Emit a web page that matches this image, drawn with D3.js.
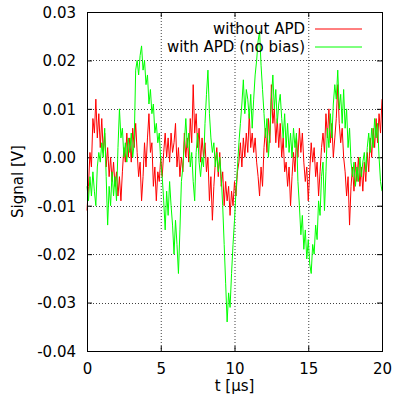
<!DOCTYPE html>
<html>
<head>
<meta charset="utf-8">
<script src="https://cdn.jsdelivr.net/npm/d3@7"></script>
<style>
  html, body { margin: 0; padding: 0; background: #fff; }
  text { font-family: "DejaVu Sans", sans-serif; font-size: 15px; fill: #000; }
</style>
</head>
<body>
<div id="chart"></div>
<script>
// time axis, 0.1 us steps
const tStep = 0.1;
// signal values in mV
const withoutApd = [
  -11, -6, 1, -2, 8, 5, 12, 4, 9, 2,
  8, 1, 5, -2, 2, -4, 0, -5, -1, -6,
  -3, -8, -4, -9, -3, 2, -1, 5, 0, 4,
  -1, 6, 2, 7, 1, -4, -1, -9, -4, 3,
  -2, 4, 9, 1, 3, -6, -2, -9, -3, -5,
  0, -4, 1, 5, 0, 4, -1, 5, 1, 3,
  7, -2, 2, -4, 0, -3, 5, 0, 4, -1,
  8, 3, 15, 5, 9, 2, 6, -1, 4, 0,
  3, -3, 0, -9, -4, -13, -6, -1, 2, -4,
  1, -6, -3, -10, -5, -9, -6, -12, -7, -10,
  -5, -8, -3, -1, 3, -2, 4, 0, 5, 1,
  9, 2, 5, 1, 4, -1, -4, -8, -2, -6,
  2, 6, 1, 8, 3, 15, 7, 10, 3, 8,
  2, 7, 0, 4, -3, -1, -6, -2, -10, -4,
  1, -3, 4, 0, 6, 1, 5, -1, -5, -2,
  -9, -3, 3, -1, 2, -4, -1, -8, -3, 2,
  5, 1, 9, 4, 10, 3, 7, 0, 4, 8,
  15, 7, 3, 6, 0, -3, -8, -4, -14, -6,
  -2, -7, -1, -5, 0, -6, -2, -7, -1, -5,
  1, -3, 4, 0, 6, 2, 8, 3, 9, 5,
  12
];
const withApd = [
  -6, -9, -4, -8, -3, -7, -10, -2, 1, -1,
  3, 0, 6, -4, -14, -6, -10, -3, -8, -4,
  -9, 2, 10, 4, 6, 0, 3, -1, 4, 1,
  5, 0, 3, 18, 20, 17, 21, 23, 18, 20,
  15, 17, 11, 14, 9, 11, 5, 7, 3, 5,
  -1, -4, -9, -15, -7, -12, -5, -10, -14, -20,
  -13, -18, -24, -15, -5, -2, 3, 8, 2, 5,
  -2, 1, -5, -9, 1, 5, -1, -4, 0, -2,
  7, 13, 18, 9, 4, 1, 3, -2, 1, -3,
  0, -4, -10, -18, -26, -34, -28, -31, -24, -18,
  -13, -7, -2, 3, 7, 11, 16, 9, 14, 12,
  8, 13, 6, 12, 17, 20, 24, 26, 19, 14,
  9, 4, 8, 0, 5, 12, 17, 10, 14, 7,
  11, 13, 8, 4, 9, 2, 7, 1, 5, 0,
  6, 2, 5, -5, -10, -16, -12, -19, -15, -21,
  -17, -22, -24, -18, -20, -14, -17, -9, -12, -4,
  -1, -11, -3, 6, 2, 9, 4, 11, 15, 12,
  18, 10, 13, 7, 14, 6, 10, 2, 6, -1,
  -4, -1, -6, -2, -5, 0, -4, -1, 1, -3,
  2, 5, 1, 6, 2, 8, 4, 7, 0, -5,
  -7
];
const seriesNames = ['without APD', 'with APD (no bias)'];
const seriesColors = ['#ff0000', '#00ff00'];
const xTicks = [0, 5, 10, 15, 20];
const yTicks = [-0.04, -0.03, -0.02, -0.01, 0, 0.01, 0.02, 0.03];

const width = 394, height = 397;
const margin = { top: 12, right: 12, bottom: 46, left: 87 };
const innerW = width - margin.left - margin.right;
const innerH = height - margin.top - margin.bottom;

const svg = d3.select('#chart').append('svg')
  .attr('width', width)
  .attr('height', height);
const g = svg.append('g')
  .attr('transform', 'translate(' + margin.left + ',' + margin.top + ')');

const x = d3.scaleLinear().domain([0, 20]).range([0, innerW]);
const y = d3.scaleLinear().domain([-0.04, 0.03]).range([innerH, 0]);

// grid
g.append('g').selectAll('line').data(xTicks.slice(1, -1)).join('line')
  .attr('x1', d => x(d) + 0.5).attr('x2', d => x(d) + 0.5)
  .attr('y1', 0).attr('y2', innerH)
  .attr('stroke', '#000').attr('stroke-opacity', 0.75)
  .attr('stroke-dasharray', '1,2');
g.append('g').selectAll('line').data(yTicks.slice(1, -1)).join('line')
  .attr('x1', 0).attr('x2', innerW)
  .attr('y1', d => Math.round(y(d)) + 0.5).attr('y2', d => Math.round(y(d)) + 0.5)
  .attr('stroke', '#000').attr('stroke-opacity', 0.75)
  .attr('stroke-dasharray', '1,2');

// axes, ticks inward and mirrored (gnuplot style, plain hyphen minus)
const fmtY = d => d3.format('.2f')(d).replace('\u2212', '-');
const axB = g.append('g').attr('transform', 'translate(0,' + innerH + ')')
  .call(d3.axisBottom(x).tickValues(xTicks).tickSize(-5).tickPadding(12).tickFormat(d3.format('d')));
const axT = g.append('g')
  .call(d3.axisTop(x).tickValues(xTicks).tickSize(-5).tickFormat(''));
const axL = g.append('g')
  .call(d3.axisLeft(y).tickValues(yTicks).tickSize(-5).tickPadding(11).tickFormat(fmtY));
const axR = g.append('g').attr('transform', 'translate(' + innerW + ',0)')
  .call(d3.axisRight(y).tickValues(yTicks).tickSize(-5).tickFormat(''));
[axB, axT, axL, axR].forEach(a => {
  a.select('.domain').remove();
  a.selectAll('text').style('font-size', '15px').attr('fill', '#000');
});
axL.selectAll('text').attr('dy', '0.36em');

// series
const toPoints = arr => arr.map((v, i) => [i * tStep, v / 1000]);
const line = d3.line().x(d => x(d[0])).y(d => y(d[1]));
[withoutApd, withApd].forEach((arr, i) => {
  g.append('path')
    .datum(toPoints(arr))
    .attr('fill', 'none')
    .attr('stroke', seriesColors[i])
    .attr('stroke-width', 1)
    .attr('d', line);
});

// border
g.append('rect')
  .attr('x', 0.5).attr('y', 0.5)
  .attr('width', innerW).attr('height', innerH)
  .attr('fill', 'none').attr('stroke', '#000').attr('stroke-width', 1);

// legend
const legend = svg.append('g');
seriesNames.forEach((name, i) => {
  const ly = 29 + i * 17.5;
  legend.append('text')
    .attr('x', 305).attr('y', ly).attr('dy', '0.36em')
    .attr('text-anchor', 'end')
    .text(name);
  legend.append('line')
    .attr('x1', 315).attr('x2', 362)
    .attr('y1', Math.round(ly)).attr('y2', Math.round(ly))
    .attr('stroke', seriesColors[i]).attr('stroke-width', 1);
});

// axis labels
svg.append('text')
  .attr('x', margin.left + innerW / 2).attr('y', 391)
  .attr('text-anchor', 'middle')
  .text('t [\u00b5s]');
svg.append('text')
  .attr('transform', 'translate(23,' + (margin.top + innerH / 2) + ') rotate(-90)')
  .attr('text-anchor', 'middle')
  .text('Signal [V]');
</script>
</body>
</html>
